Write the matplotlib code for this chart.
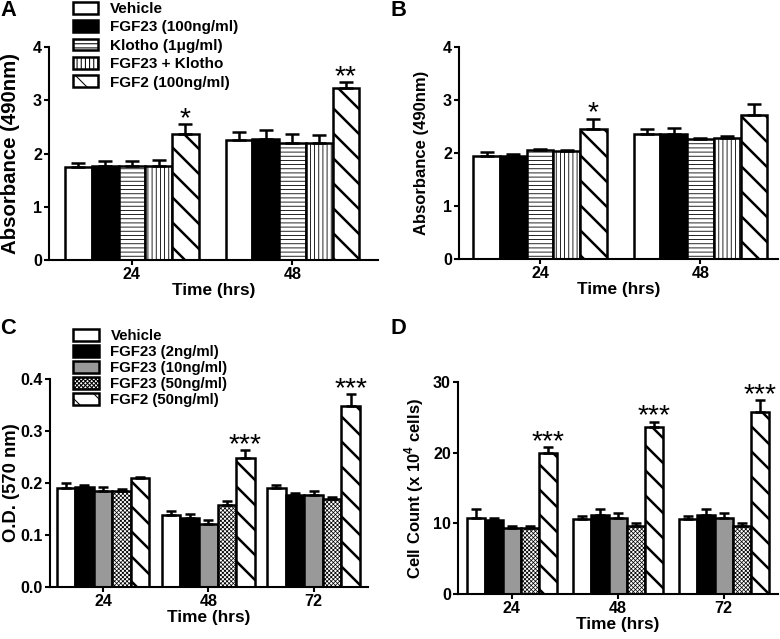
import matplotlib.pyplot as plt
import numpy as np

plt.rcParams['font.family'] = ['Liberation Sans', 'DejaVu Sans']
plt.rcParams['font.weight'] = 'bold'
plt.rcParams['axes.labelweight'] = 'bold'
plt.rcParams['mathtext.fontset'] = 'custom'
plt.rcParams['mathtext.bf'] = 'Liberation Sans:bold'
plt.rcParams['mathtext.rm'] = 'Liberation Sans:bold'

# ---- data ----
times_ab = ['24', '48']
times_cd = ['24', '48', '72']

labels_ab = ['Vehicle', 'FGF23 (100ng/ml)', 'Klotho (1\u03bcg/ml)', 'FGF23 + Klotho', 'FGF2 (100ng/ml)']
labels_cd = ['Vehicle', 'FGF23 (2ng/ml)', 'FGF23 (10ng/ml)', 'FGF23 (50ng/ml)', 'FGF2 (50ng/ml)']

# rows = treatment, cols = time point
a_mean = [[1.75, 2.26], [1.77, 2.28], [1.77, 2.19], [1.77, 2.19], [2.36, 3.23]]
a_err = [[0.08, 0.15], [0.09, 0.16], [0.08, 0.17], [0.10, 0.16], [0.20, 0.11]]
a_stars = [['', ''], ['', ''], ['', ''], ['', ''], ['*', '**']]

b_mean = [[1.94, 2.35], [1.95, 2.36], [2.06, 2.26], [2.03, 2.28], [2.45, 2.71]]
b_err = [[0.07, 0.11], [0.04, 0.12], [0.02, 0.03], [0.02, 0.04], [0.20, 0.21]]
b_stars = [['', ''], ['', ''], ['', ''], ['', ''], ['*', '']]

c_mean = [[0.191, 0.138, 0.190], [0.192, 0.132, 0.177], [0.184, 0.122, 0.177],
          [0.185, 0.157, 0.169], [0.210, 0.248, 0.348]]
c_err = [[0.009, 0.009, 0.007], [0.005, 0.009, 0.004], [0.008, 0.006, 0.008],
         [0.003, 0.009, 0.004], [0.002, 0.016, 0.023]]
c_stars = [[''] * 3, [''] * 3, [''] * 3, [''] * 3, ['', '***', '***']]

d_mean = [[10.8, 10.6, 10.6], [10.5, 11.2, 11.2], [9.4, 10.8, 10.8],
          [9.4, 9.6, 9.6], [20.0, 23.6, 25.7]]
d_err = [[1.2, 0.5, 0.5], [0.2, 0.8, 0.8], [0.2, 0.7, 0.7],
         [0.2, 0.4, 0.4], [0.8, 0.8, 1.8]]
d_stars = [[''] * 3, [''] * 3, [''] * 3, [''] * 3, ['***', '***', '***']]

# ---- styles ----
styles_ab = [dict(fc='white', hatch=None, hlw=1.0),
             dict(fc='black', hatch=None, hlw=1.0),
             dict(fc='white', hatch='---', hlw=0.8),
             dict(fc='white', hatch='|||', hlw=0.8),
             dict(fc='white', hatch='\\', hlw=2.4)]
styles_cd = [dict(fc='white', hatch=None, hlw=1.0),
             dict(fc='black', hatch=None, hlw=1.0),
             dict(fc='#999999', hatch=None, hlw=1.0),
             dict(fc='white', hatch='xxxxxx', hlw=0.7),
             dict(fc='white', hatch='\\', hlw=2.4)]

W, H = 780, 639
fig = plt.figure(figsize=(W / 75, H / 75), dpi=75)


def px_axes(x0, x1, ytop, ybot):
    return fig.add_axes([x0 / W, 1 - ybot / H, (x1 - x0) / W, (ybot - ytop) / H])


def panel(ax, times, means, errs, stars, styles, labels, period, xlim, ylim,
          yticks, yfmt, ylabel, ylsize, capsize):
    centers = np.arange(len(times)) * period
    handles = []
    for j, st in enumerate(styles):
        x = centers + (j - 2)
        with plt.rc_context({'hatch.linewidth': st['hlw']}):
            bars = ax.bar(x, means[j], width=1.0, color=st['fc'], edgecolor='black',
                          linewidth=2.4, hatch=st['hatch'], zorder=2)
        handles.append(bars)
        ax.errorbar(x, means[j], yerr=[np.zeros(len(times)), errs[j]], fmt='none',
                    ecolor='black', elinewidth=2.4, capsize=capsize, capthick=2.4, zorder=3)
        for k, s in enumerate(stars[j]):
            if s:
                ax.annotate(s, (x[k], means[j][k] + errs[j][k]), xytext=(0, -2),
                            textcoords='offset points', ha='center', va='baseline',
                            fontsize=27, fontweight='normal')
    ax.set_xlim(*xlim)
    ax.set_ylim(*ylim)
    ax.set_xticks(centers)
    ax.set_xticklabels(times)
    ax.set_yticks(yticks)
    ax.set_yticklabels([yfmt.format(v) for v in yticks])
    for sp in ['top', 'right']:
        ax.spines[sp].set_visible(False)
    for sp in ['left', 'bottom']:
        ax.spines[sp].set_linewidth(2.0)
    ax.tick_params(width=2.0, length=4.8, labelsize=15.5, pad=2)
    ax.set_xlabel('Time (hrs)', fontsize=16.5, labelpad=1)
    ax.set_ylabel(ylabel, fontsize=ylsize)
    return handles


axA = px_axes(49, 378, 47, 260)
hA = panel(axA, times_ab, a_mean, a_err, a_stars, styles_ab, labels_ab, 6.0, (-3.1, 9.2),
           (0, 4), [0, 1, 2, 3, 4], '{:g}', 'Absorbance (490nm)', 19.5, 6.7)
axA.yaxis.set_label_coords(-0.088, 0.5)

axB = px_axes(459, 778, 47, 259)
panel(axB, times_ab, b_mean, b_err, b_stars, styles_ab, labels_ab, 6.0, (-3.03, 8.9),
      (0, 4), [0, 1, 2, 3, 4], '{:g}', 'Absorbance (490nm)', 16, 6.7)
axB.yaxis.set_label_coords(-0.094, 0.5)

axC = px_axes(50, 368, 379, 587)
hC = panel(axC, times_cd, c_mean, c_err, c_stars, styles_cd, labels_cd, 5.68, (-2.86, 14.3),
           (0, 0.4), [0, 0.1, 0.2, 0.3, 0.4], '{:.1f}', 'O.D. (570 nm)', 17.8, 4.8)
axC.yaxis.set_label_coords(-0.095, 0.5)

axD = px_axes(458, 778, 382, 594)
panel(axD, times_cd, d_mean, d_err, d_stars, styles_cd, labels_cd, 5.89, (-3.0, 14.8),
      (0, 30), [0, 10, 20, 30], '{:g}', r'Cell Count (x 10$^{\mathbf{4}}$ cells)', 16, 4.8)
axD.yaxis.set_label_coords(-0.1, 0.5)

fig.legend(hA, labels_ab, loc='upper left', bbox_to_anchor=(73 / W, 1 - 2 / H),
           frameon=False, fontsize=14.7, handlelength=1.63, handleheight=0.78,
           handletextpad=0.78, labelspacing=0.28, borderpad=0, borderaxespad=0)
fig.legend(hC, labels_cd, loc='upper left', bbox_to_anchor=(73 / W, 1 - 329 / H),
           frameon=False, fontsize=14.4, handlelength=1.7, handleheight=0.8,
           handletextpad=0.8, labelspacing=0.14, borderpad=0, borderaxespad=0)

for letter, x, y in [('A', 0, 0), ('B', 391, 0), ('C', 0, 318), ('D', 390, 318)]:
    fig.text(x / W, 1 - y / H, letter, fontsize=21, fontweight='bold', ha='left', va='top')

fig.savefig('out.png', dpi=75)
